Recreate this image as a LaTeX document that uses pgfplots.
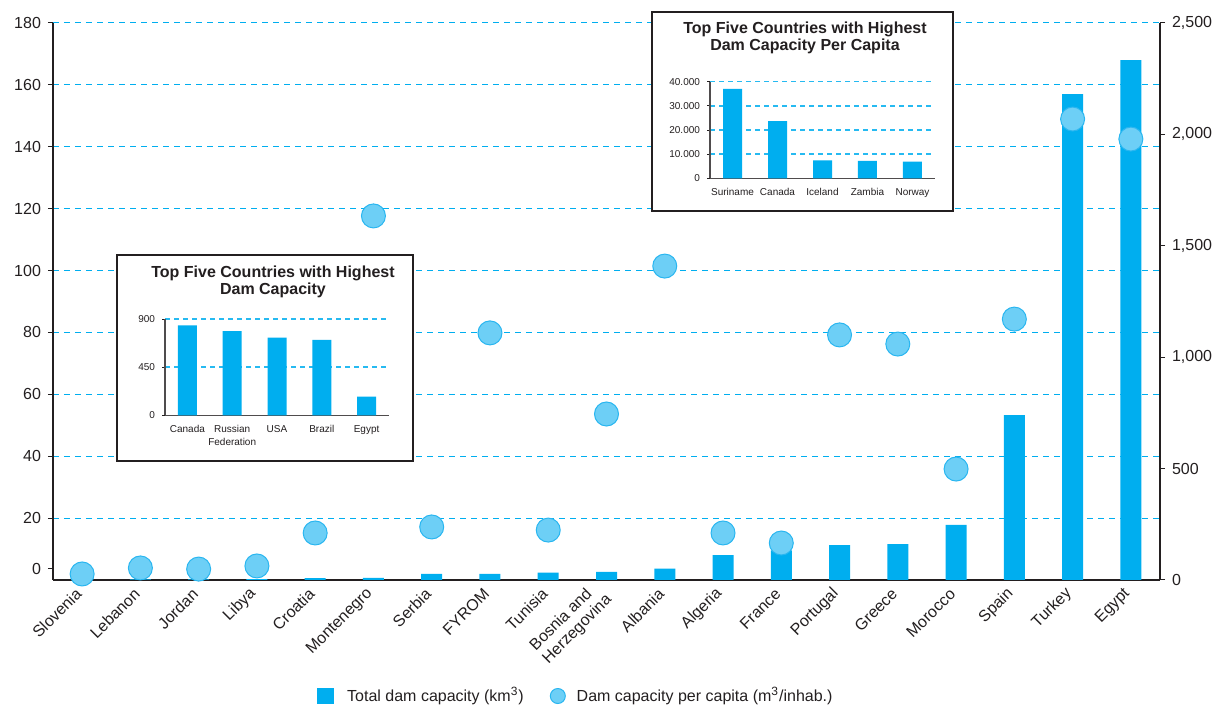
\documentclass[border=0pt]{standalone}
\usepackage{fontspec}
\setmainfont{Liberation Sans}
\usepackage{pgfplots}
\usepackage{pgfplotstable}
\pgfplotsset{compat=1.18}
\definecolor{barcol}{RGB}{0,174,239}
\definecolor{bubfill}{RGB}{109,207,246}
\definecolor{bubdraw}{RGB}{41,182,240}
\definecolor{gridcol}{RGB}{0,174,239}
\definecolor{txt}{RGB}{35,31,32}

\pgfplotstableread{
x cap pc
0 0.1 27
1 0.2 54
2 0.2 49
3 0.3 63
4 0.6 211
5 0.7 1634
6 2.0 238
7 2.0 1109
8 2.4 224
9 2.6 745
10 3.7 1409
11 8.0 211
12 9.6 166
13 11.3 1100
14 11.6 1059
15 17.8 498
16 53.3 1171
17 157 2069
18 168 1979
}\maintable

\pgfplotstableread{
x v
0 36980
1 23700
2 7450
3 7160
4 6880
}\percapita

\pgfplotstableread{
x v
0 844
1 790
2 727
3 706
4 174
}\topcap

\begin{document}
\begin{tikzpicture}
\path[use as bounding box] (0,0) rectangle (608.5pt,352.5pt);

\begin{axis}[
  at={(26.5pt,62.5pt)}, anchor=south west, scale only axis,
  width=553.5pt, height=278.5pt,
  xmin=-0.5, xmax=18.5, ymin=0, ymax=180,
  axis x line*=bottom, axis y line*=left,
  axis line style={line width=0.75pt, draw=txt},
  xtick={0,...,18},
  xticklabels={Slovenia,Lebanon,Jordan,Libya,Croatia,Montenegro,Serbia,FYROM,Tunisia,{Bosnia and\\Herzegovina},Albania,Algeria,France,Portugal,Greece,Morocco,Spain,Turkey,Egypt},
  xticklabel style={rotate=45, anchor=east, align=left, font=\fontsize{8}{9}\selectfont, text=txt, yshift=-1pt},
  xtick style={draw=none},
  ytick={20,40,...,180},
  extra y ticks={3.6}, extra y tick labels={0}, extra tick style={grid=none},
  ymajorgrids,
  grid style={gridcol, line width=0.5pt, dash pattern=on 3pt off 2.5pt},
  tick align=outside, major tick length=2.5pt,
  ytick style={draw=txt, line width=0.5pt},
  yticklabel style={font=\fontsize{8}{9}\selectfont, text=txt},
  /pgf/number format/assume math mode=true,
  clip=false,
  legend style={at={(0.2385,-0.2083)}, anchor=west, draw=none, fill=none, inner sep=0pt,
    font=\fontsize{8}{9.6}\selectfont, text=txt, legend columns=2,
    /tikz/every even column/.append style={column sep=11pt}},
]
\addlegendimage{legend image code/.code={\fill[barcol] (0pt,-3.75pt) rectangle (8pt,3.75pt); \path (12.5pt,0pt);}}
\addlegendentry{Total dam capacity (km\textsuperscript{3})}
\addlegendimage{legend image code/.code={\draw[fill=bubfill, draw=bubdraw, line width=0.5pt] (3.75pt,0pt) circle (3.75pt); \path (11pt,0pt);}}
\addlegendentry{Dam capacity per capita (m\textsuperscript{3}/inhab.)}
\addplot[ybar, bar width=10.5pt, bar shift=0pt, fill=barcol, draw=none, forget plot] table[x=x,y=cap]{\maintable};
\end{axis}

\begin{axis}[
  at={(26.5pt,62.5pt)}, anchor=south west, scale only axis,
  width=553.5pt, height=278.5pt,
  xmin=-0.5, xmax=18.5, ymin=0, ymax=2500,
  axis x line=none, axis y line*=right,
  axis line style={line width=0.75pt, draw=txt},
  ytick={0,500,...,2500},
  yticklabels={0,500,{1,000},{1,500},{2,000},{2,500}},
  tick align=outside, major tick length=2.5pt,
  ytick style={draw=txt, line width=0.5pt},
  yticklabel style={font=\fontsize{8}{9}\selectfont, text=txt},
  clip=false,
]
\addplot[only marks, mark=*, mark size=6pt, mark options={fill=bubfill, draw=bubdraw, line width=0.5pt}] table[x=x,y=pc]{\maintable};
\end{axis}

% Inset 1
\filldraw[fill=white, draw=txt, line width=0.75pt] (326pt,247pt) rectangle (476.5pt,346.5pt);
\node[font=\bfseries\fontsize{8}{8.5}\selectfont, align=center, text=txt] at (402.5pt,333.5pt) {Top Five Countries with Highest\\Dam Capacity Per Capita};
\begin{axis}[
  at={(355pt,263.35pt)}, anchor=south west, scale only axis,
  width=112.5pt, height=48.3pt,
  xmin=-0.5, xmax=4.5, ymin=0, ymax=40000,
  axis x line*=bottom, axis y line*=left,
  axis line style={line width=0.6pt, draw=txt!80},
  xtick={0,...,4},
  xticklabels={Suriname,Canada,Iceland,Zambia,Norway},
  xticklabel style={font=\fontsize{5}{6}\selectfont, text=txt},
  xtick style={draw=none},
  ytick={10000,20000,30000,40000},
  yticklabels={10.000,20.000,30.000,40.000},
  extra y ticks={0}, extra y tick labels={0}, extra tick style={grid=none},
  ymajorgrids,
  grid style={draw=gridcol!85, line width=0.8pt, dash pattern=on 2.5pt off 2pt},
  major grid style={draw=gridcol!85, line width=0.8pt, dash pattern=on 2.5pt off 2pt},
  tick align=outside, major tick length=1.5pt,
  ytick style={draw=txt, line width=0.4pt},
  yticklabel style={font=\fontsize{5}{6}\selectfont, text=txt},
  scaled y ticks=false,
]
\addplot[ybar, bar width=9.5pt, bar shift=0pt, fill=barcol, draw=none] table[x=x,y=v]{\percapita};
\end{axis}

% Inset 2
\filldraw[fill=white, draw=txt, line width=0.75pt] (58.5pt,122pt) rectangle (206.5pt,225pt);
\node[font=\bfseries\fontsize{8}{8.5}\selectfont, align=center, text=txt] at (136.5pt,211.5pt) {Top Five Countries with Highest\\Dam Capacity};
\begin{axis}[
  at={(82.5pt,144.85pt)}, anchor=south west, scale only axis,
  width=112pt, height=48pt,
  xmin=-0.5, xmax=4.5, ymin=0, ymax=900,
  axis x line*=bottom, axis y line*=left,
  axis line style={line width=0.6pt, draw=txt!80},
  xtick={0,...,4},
  xticklabels={Canada,{Russian\\Federation},USA,Brazil,Egypt},
  xticklabel style={font=\fontsize{5}{6.5}\selectfont, text=txt, align=center},
  xtick style={draw=none},
  ytick={450,900},
  yticklabels={450,900},
  extra y ticks={0}, extra y tick labels={0}, extra tick style={grid=none},
  ymajorgrids,
  grid style={draw=gridcol!85, line width=0.8pt, dash pattern=on 2.5pt off 2pt},
  major grid style={draw=gridcol!85, line width=0.8pt, dash pattern=on 2.5pt off 2pt},
  tick align=outside, major tick length=1.5pt,
  ytick style={draw=txt, line width=0.4pt},
  yticklabel style={font=\fontsize{5}{6}\selectfont, text=txt},
]
\addplot[ybar, bar width=9.5pt, bar shift=0pt, fill=barcol, draw=none] table[x=x,y=v]{\topcap};
\end{axis}
\end{tikzpicture}
\end{document}
